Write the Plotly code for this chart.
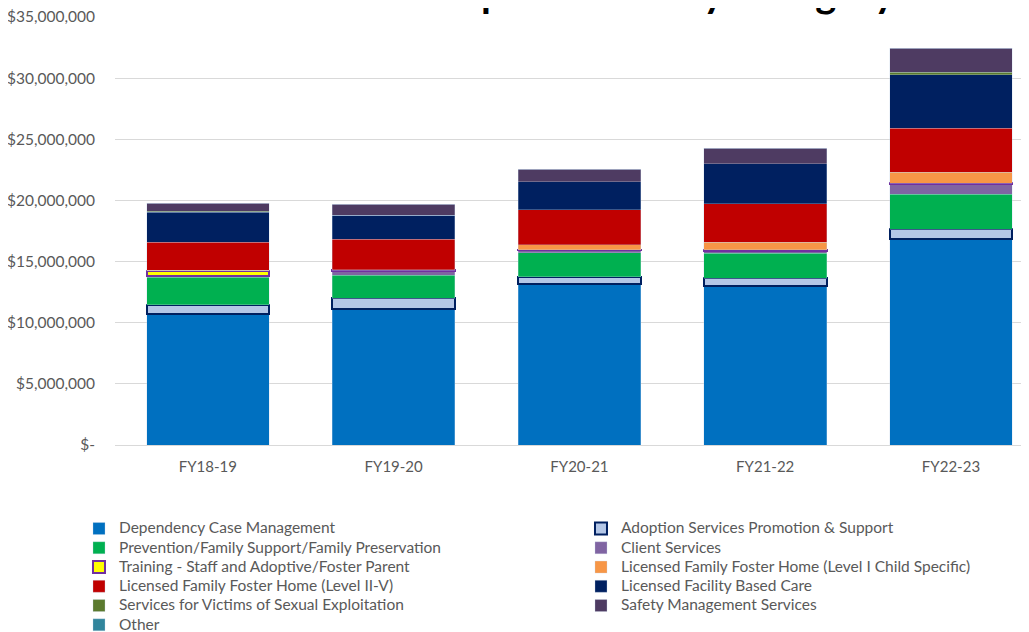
import plotly.graph_objects as go

# ---- data (in dollars) ----
years = ["FY18-19", "FY19-20", "FY20-21", "FY21-22", "FY22-23"]

dependency_case_mgmt = [10710000, 11150000, 13140000, 13000000, 16850000]
adoption_services = [740000, 850000, 630000, 630000, 790000]
prevention_family = [2270000, 1880000, 1960000, 2070000, 2860000]
client_services = [110000, 350000, 200000, 200000, 850000]
training_staff = [400000, 50000, 50000, 50000, 50000]
foster_level_1 = [50000, 50000, 410000, 630000, 900000]
foster_level_2_5 = [2310000, 2510000, 2830000, 3160000, 3600000]
facility_based_care = [2450000, 1930000, 2290000, 3240000, 4390000]
victims_exploitation = [80000, 30000, 20000, 20000, 190000]
safety_management = [630000, 870000, 1000000, 1250000, 1960000]
other = [20000, 20000, 20000, 20000, 20000]

y_tickvals = [0, 5000000, 10000000, 15000000, 20000000, 25000000, 30000000, 35000000]
y_ticktext = ["$-", "$5,000,000", "$10,000,000", "$15,000,000", "$20,000,000",
              "$25,000,000", "$30,000,000", "$35,000,000"]

series = [
    ("Dependency Case Management", dependency_case_mgmt, "#0070C0", None),
    ("Adoption Services Promotion & Support", adoption_services, "#B4C7E7", "#002060"),
    ("Prevention/Family Support/Family Preservation", prevention_family, "#00B050", None),
    ("Client Services", client_services, "#8064A2", None),
    ("Training - Staff and Adoptive/Foster Parent", training_staff, "#FFFF00", "#7030A0"),
    ("Licensed Family Foster Home (Level I Child Specific)", foster_level_1, "#F79646", None),
    ("Licensed Family Foster Home (Level II-V)", foster_level_2_5, "#C00000", None),
    ("Licensed Facility Based Care", facility_based_care, "#002060", None),
    ("Services for Victims of Sexual Exploitation", victims_exploitation, "#5B7A2E", None),
    ("Safety Management Services", safety_management, "#4E3B62", None),
    ("Other", other, "#31859C", None),
]

fig = go.Figure()
for name, vals, color, border in series:
    if border:
        line = dict(color=border, width=2)
    else:
        line = dict(color="rgba(200,215,235,0.6)", width=0.5)
    # legend rows are tighter than the text size, so the legend font is small
    # and the label itself carries the larger size
    fig.add_trace(go.Bar(
        x=years, y=vals, width=0.66,
        name='<span style="font-size:15.5px">' + name + '</span>',
        marker=dict(color=color, line=line),
    ))

# title sits mostly above the visible page, as in the reference crop
fig.add_annotation(
    text="<b>Expenditures by Category</b>", xref="paper", yref="paper",
    x=0.857, y=1, xanchor="right", yanchor="bottom", yshift=-1,
    showarrow=False, font=dict(size=40, color="#000000", family="Lato"),
)

fig.update_layout(
    width=1021, height=624,
    margin=dict(l=107, r=0, t=9, b=187, autoexpand=False),
    barmode="stack",
    paper_bgcolor="#FFFFFF", plot_bgcolor="#FFFFFF",
    font=dict(family="Lato", color="#595959", size=15),
    xaxis=dict(range=[-0.5, 4.42], showgrid=False, showline=False,
               ticks="", ticklabelstandoff=11,
               tickfont=dict(size=15, color="#595959")),
    yaxis=dict(range=[0, 35000000], tickvals=y_tickvals, ticktext=y_ticktext,
               showgrid=True, gridcolor="#D9D9D9", gridwidth=1,
               zeroline=True, zerolinecolor="#D9D9D9", zerolinewidth=1,
               ticks="", ticklabelstandoff=19, ticklabeloverflow="allow",
               tickfont=dict(size=15.5, color="#595959")),
    legend=dict(orientation="h", x=-0.0394, xanchor="left", y=-0.161, yanchor="top",
                traceorder="normal", entrywidth=457, entrywidthmode="pixels",
                font=dict(size=12.5, color="#595959", family="Lato"),
                itemclick=False, tracegroupgap=0),
    showlegend=True,
)

fig.write_html("out.html")
